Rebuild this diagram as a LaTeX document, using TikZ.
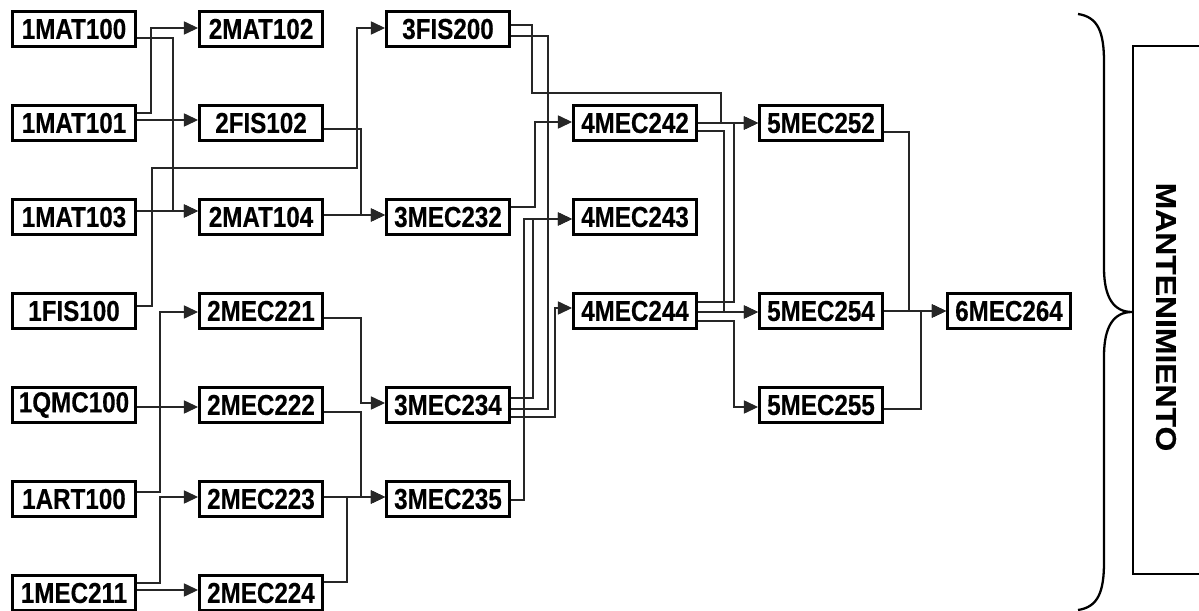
\documentclass[tikz,border=0pt]{standalone}
\usepackage{fontspec}
\setmainfont{Liberation Sans}
\newfontfamily\boxfont[FakeStretch=0.84,FakeBold=0.3]{Liberation Sans}
\newfontfamily\sidefont[FakeStretch=1.12,FakeBold=0.4]{Liberation Sans}
\usetikzlibrary{arrows.meta,calc}
\begin{document}
\begin{tikzpicture}[x=0.02cm,y=-0.02cm,
  course/.style={draw=black,line width=1.7pt,fill=white,minimum width=2.46cm,minimum height=0.7cm,inner sep=0pt,
    font=\boxfont\bfseries\fontsize{16.4}{18}\selectfont},
  link/.style={draw=black!85,line width=0.6pt},
  arr/.style={link,-{Triangle[length=8pt,width=7.5pt]}},
  brace/.style={draw=black,line width=1.3pt}]
\path[use as bounding box] (0,0) rectangle (1199,611);
\clip (0,0) rectangle (1199,611);
% column 1
\node[course] (a1) at (74,29) {1MAT100};
\node[course] (a2) at (74,123) {1MAT101};
\node[course] (a3) at (74,217) {1MAT103};
\node[course] (a4) at (74,311) {1FIS100};
\node[course] (a5) at (74,405) {1QMC100};
\node[course] (a6) at (74,499) {1ART100};
\node[course] (a7) at (74,593) {1MEC211};
% column 2
\node[course] (b1) at (261,29) {2MAT102};
\node[course] (b2) at (261,123) {2FIS102};
\node[course] (b3) at (261,217) {2MAT104};
\node[course] (b4) at (261,311) {2MEC221};
\node[course] (b5) at (261,405) {2MEC222};
\node[course] (b6) at (261,499) {2MEC223};
\node[course] (b7) at (261,593) {2MEC224};
% column 3
\node[course] (c1) at (448,29) {3FIS200};
\node[course] (c3) at (448,217) {3MEC232};
\node[course] (c5) at (448,405) {3MEC234};
\node[course] (c6) at (448,499) {3MEC235};
% column 4
\node[course] (d2) at (635,123) {4MEC242};
\node[course] (d3) at (635,217) {4MEC243};
\node[course] (d4) at (635,311) {4MEC244};
% column 5
\node[course] (e2) at (821,123) {5MEC252};
\node[course] (e4) at (821,311) {5MEC254};
\node[course] (e5) at (821,405) {5MEC255};
% column 6
\node[course] (f4) at (1009,311) {6MEC264};

% connectors column 1 -> 2/3
\draw[arr] (a1.east|-0,38) -- (173,38) -- (173,211) -- (b3.west|-0,211);
\draw[arr] (a2.east|-0,113) -- (151,113) -- (151,28) -- (b1.west|-0,28);
\draw[arr] (a2.east|-0,120) -- (b2.west|-0,120);
\draw[arr] (a3.east|-0,211) -- (b3.west|-0,211);
\draw[arr] (a4.east|-0,306) -- (152,306) -- (152,168) -- (357,168) -- (357,28) -- (c1.west|-0,28);
\draw[arr] (a6.east|-0,492) -- (160,492) -- (160,312) -- (b4.west|-0,312);
\draw[arr] (a5.east|-0,407) -- (b5.west|-0,407);
\draw[arr] (a7.east|-0,583) -- (160,583) -- (160,497) -- (b6.west|-0,497);
\draw[arr] (a7.east|-0,590) -- (b7.west|-0,590);
% column 2 -> 3
\draw[arr] (b2.east|-0,129) -- (361,129) -- (361,215) -- (c3.west|-0,215);
\draw[arr] (b3.east|-0,215) -- (c3.west|-0,215);
\draw[arr] (b4.east|-0,318) -- (361,318) -- (361,403) -- (c5.west|-0,403);
\draw[arr] (b5.east|-0,412) -- (361,412) -- (361,497) -- (c6.west|-0,497);
\draw[arr] (b6.east|-0,497) -- (c6.west|-0,497);
\draw[arr] (b7.east|-0,582) -- (347,582) -- (347,497) -- (c6.west|-0,497);
% column 3 -> 4/5
\draw[arr] (c1.east|-0,25) -- (532,25) -- (532,93) -- (721,93) -- (721,123) -- (e2.west|-0,123);
\draw[link] (c1.east|-0,36) -- (548,36) -- (548,409) -- (c5.east|-0,409);
\draw[arr] (c3.east|-0,207) -- (535,207) -- (535,122) -- (d2.west|-0,122);
\draw[arr] (c5.east|-0,398) -- (533,398) -- (533,219) -- (d3.west|-0,219);
\draw[arr] (c6.east|-0,500) -- (524,500) -- (524,219) -- (d3.west|-0,219);
\draw[arr] (c5.east|-0,417) -- (555,417) -- (555,308) -- (d4.west|-0,308);
% column 4 -> 5
\draw[arr] (d2.east|-0,123) -- (e2.west|-0,123);
\draw[arr] (d2.east|-0,131) -- (724,131) -- (724,312) -- (e4.west|-0,312);
\draw[arr] (d4.east|-0,302) -- (734,302) -- (734,123) -- (e2.west|-0,123);
\draw[arr] (d4.east|-0,312) -- (e4.west|-0,312);
\draw[arr] (d4.east|-0,321) -- (734,321) -- (734,407) -- (e5.west|-0,407);
% column 5 -> 6
\draw[arr] (e2.east|-0,132) -- (909,132) -- (909,311) -- (f4.west|-0,311);
\draw[arr] (e4.east|-0,311) -- (f4.west|-0,311);
\draw[arr] (e5.east|-0,409) -- (921,409) -- (921,311) -- (f4.west|-0,311);

% brace
\coordinate (bt) at (1078,14);
\coordinate (btip) at (1132,312);
\coordinate (bb) at (1078,610);
\draw[brace] (bt) .. controls (1098,17) and (1104,32) .. (1104,62) -- (1104,268)
  .. controls (1104,298) and (1114,312) .. (btip)
  .. controls (1114,312) and (1104,326) .. (1104,356) -- (1104,562)
  .. controls (1104,592) and (1098,607) .. (bb);
% side box
\draw[line width=0.8pt] (1133,46) rectangle (1215,574);
\node[rotate=-90,font=\sidefont\bfseries\fontsize{16.2}{18}\selectfont] (side) at (1166,317) {MANTENIMIENTO};
\end{tikzpicture}
\end{document}
